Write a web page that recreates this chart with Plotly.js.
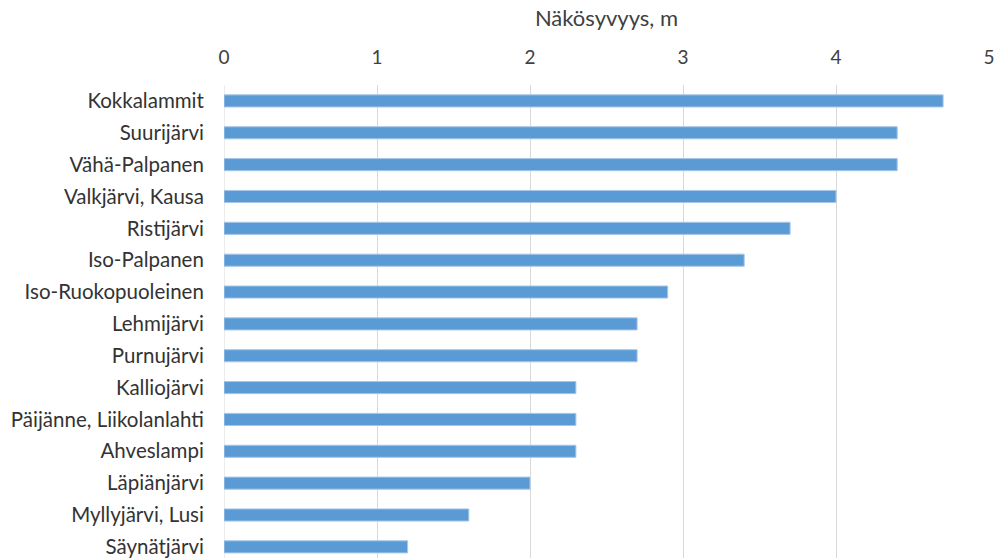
<!DOCTYPE html>
<html>
<head>
<meta charset="utf-8">
<script src="https://cdn.plot.ly/plotly-3.0.1.min.js"></script>
<style>
  html, body { margin: 0; padding: 0; overflow: hidden; background: #ffffff; }
  #chart { width: 996px; height: 558px; }
</style>
</head>
<body>
<div id="chart"></div>
<script>
// Secchi depth (näkösyvyys) per lake, in metres
const lakes = [
  "Kokkalammit", "Suurijärvi", "Vähä-Palpanen", "Valkjärvi, Kausa", "Ristijärvi",
  "Iso-Palpanen", "Iso-Ruokopuoleinen", "Lehmijärvi", "Purnujärvi", "Kalliojärvi",
  "Päijänne, Liikolanlahti", "Ahveslampi", "Läpiänjärvi", "Myllyjärvi, Lusi", "Säynätjärvi"
];
const depths = [4.7, 4.4, 4.4, 4.0, 3.7, 3.4, 2.9, 2.7, 2.7, 2.3, 2.3, 2.3, 2.0, 1.6, 1.2];
const xTicks = [0, 1, 2, 3, 4, 5];
const axisTitle = "Näkösyvyys, m";

const fontFamily = "Lato, 'Open Sans', sans-serif";

const trace = {
  type: "bar",
  orientation: "h",
  x: depths,
  y: lakes,
  marker: { color: "#5B9BD5", line: { color: "#A7C7E9", width: 1 } },
  hoverinfo: "x+y"
};

const layout = {
  width: 996,
  height: 558,
  margin: { l: 224, r: 7, t: 85, b: 0, pad: 0 },
  paper_bgcolor: "#ffffff",
  plot_bgcolor: "#ffffff",
  bargap: 0.62,
  showlegend: false,
  font: { family: fontFamily, color: "#404040" },
  xaxis: {
    side: "top",
    range: [0, 5],
    tickvals: xTicks,
    ticktext: xTicks.map(String),
    showgrid: true,
    gridcolor: "#D9D9D9",
    gridwidth: 1,
    zeroline: false,
    showline: false,
    ticks: "outside",
    ticklen: 12,
    tickcolor: "rgba(0,0,0,0)",
    tickfont: { size: 19, color: "#404040", family: fontFamily },
    title: { text: axisTitle, font: { size: 22, color: "#404040", family: fontFamily }, standoff: 12 },
    fixedrange: true
  },
  yaxis: {
    type: "category",
    categoryorder: "array",
    categoryarray: lakes,
    range: [14.35, -0.5],
    showgrid: false,
    zeroline: false,
    showline: false,
    ticks: "outside",
    ticklen: 15,
    tickcolor: "rgba(0,0,0,0)",
    tickfont: { size: 20.5, color: "#333333", family: fontFamily },
    fixedrange: true
  },
  shapes: [
    { type: "line", xref: "x", yref: "paper", x0: 0, x1: 0, y0: 0, y1: 1,
      line: { color: "#D9D9D9", width: 1 }, layer: "below" }
  ]
};

Plotly.newPlot("chart", [trace], layout, { displayModeBar: false, staticPlot: true });
</script>
</body>
</html>
